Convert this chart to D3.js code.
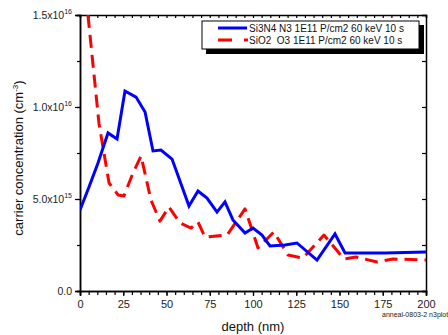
<!DOCTYPE html>
<html><head><meta charset="utf-8">
<script src="https://cdn.jsdelivr.net/npm/d3@7"></script>
<style>body{margin:0;background:#fff;}svg{display:block;font-family:"Liberation Sans",Arial,sans-serif;}</style>
</head><body>
<svg id="c" width="448" height="335"></svg>
<script>
// depth (nm) and carrier concentration (units of 1e15 cm^-3)
const si3n4Depth = [0,5.2,10.4,16.2,21.4,26.0,32.4,37.6,42.2,46.8,53.2,63.0,68.2,73.4,79.2,83.8,88.4,95.4,100.0,105.2,109.8,118.5,125.4,137.0,147.4,153.2,176.0,200.0];
const si3n4Value = [4.40,5.65,6.96,8.59,8.26,10.87,10.54,9.73,7.61,7.66,7.17,4.62,5.43,5.05,4.29,4.84,3.86,3.15,3.42,3.04,2.45,2.50,2.61,1.68,3.10,2.07,2.07,2.12];
const sio2Depth = [4.6,11.0,16.8,22.0,25.4,30.6,35.3,41.0,46.2,51.4,57.8,64.2,68.2,72.3,85.0,95.4,102.9,112.1,120.2,128.9,141.0,152.6,159.5,171.7,181.0,200.0];
const sio2Value = [15.0,9.08,5.87,5.22,5.16,6.41,7.34,4.95,3.80,4.57,3.70,3.42,3.75,2.93,3.04,4.46,2.34,3.21,1.96,1.79,3.04,1.74,1.85,1.58,1.74,1.68];
const seriesNames = ["Si3N4 N3 1E11 P/cm2 60 keV 10 s", "SiO2  O3 1E11 P/cm2 60 keV 10 s"];
const xTicks = [0,25,50,75,100,125,150,175,200];
const yTickValues = [0,5,10,15];
const yTickMain = ["0.0","5.0x10","1.0x10","1.5x10"];
const yTickSup = ["","15","16","16"];

const svg = d3.select("#c");
const L=80,R=426,T=15,B=291;
const x = d3.scaleLinear().domain([0,200]).range([L,R]);
const y = d3.scaleLinear().domain([0,15]).range([B,T]);

svg.append("clipPath").attr("id","clip").append("rect").attr("x",L).attr("y",T).attr("width",R-L).attr("height",B-T);

// axes
const minorX = d3.range(0,201,5);
const minorY = d3.range(0,15.01,2.5);
const gb = svg.append("g").attr("transform",`translate(0,${B})`)
  .call(d3.axisBottom(x).tickValues(minorX).tickSize(4).tickFormat(""));
const gb2 = svg.append("g").attr("transform",`translate(0,${B})`)
  .call(d3.axisBottom(x).tickValues(xTicks).tickSize(5).tickPadding(4).tickFormat(d=>d));
gb2.selectAll("text").attr("font-size",11).attr("fill","#222").attr("font-family","Liberation Sans, Arial");
const gt = svg.append("g").attr("transform",`translate(0,${T})`)
  .call(d3.axisBottom(x).tickValues(minorX).tickSize(3).tickFormat(""));
const gl = svg.append("g").attr("transform",`translate(${L},0)`)
  .call(d3.axisLeft(y).tickValues(minorY).tickSize(3).tickFormat(""));
const gl2 = svg.append("g").attr("transform",`translate(${L},0)`)
  .call(d3.axisLeft(y).tickValues(yTickValues).tickSize(5).tickFormat(""));
const gr = svg.append("g").attr("transform",`translate(${R},0)`)
  .call(d3.axisLeft(y).tickValues(minorY).tickSize(4).tickFormat(""));
[gb,gb2,gt,gl,gl2,gr].forEach(g=>{g.select(".domain").attr("stroke","#000").attr("stroke-width",1.5);g.selectAll("line").attr("stroke","#000").attr("stroke-width",1.2);});

// y tick labels with superscripts
yTickValues.forEach((v,i)=>{
  const t = svg.append("text").attr("x",72).attr("y",y(v)+4).attr("text-anchor","end")
    .attr("font-size",10.5).attr("fill","#222");
  t.append("tspan").text(yTickMain[i]);
  if(yTickSup[i]) t.append("tspan").attr("dy",-5).attr("font-size",7).text(yTickSup[i]);
});

// lines
const line = d3.line().x(d=>x(d[0])).y(d=>y(d[1]));
const plot = svg.append("g").attr("clip-path","url(#clip)");
plot.append("path").datum(sio2Depth.map((d,i)=>[d,sio2Value[i]]))
  .attr("d",line).attr("fill","none").attr("stroke","#ff0000").attr("stroke-width",3)
  .attr("stroke-dasharray","13,7").attr("stroke-linejoin","round");
plot.append("path").datum(si3n4Depth.map((d,i)=>[d,si3n4Value[i]]))
  .attr("d",line).attr("fill","none").attr("stroke","#0000ff").attr("stroke-width",3)
  .attr("stroke-linejoin","miter");

// legend
svg.append("rect").attr("x",206).attr("y",25).attr("width",218).attr("height",29).attr("fill","#000");
svg.append("rect").attr("x",202).attr("y",21).attr("width",217).attr("height",28).attr("fill","#fff").attr("stroke","#000").attr("stroke-width",1);
svg.append("line").attr("x1",218).attr("x2",247).attr("y1",28).attr("y2",28).attr("stroke","#0000ff").attr("stroke-width",3);
svg.append("line").attr("x1",218).attr("x2",248).attr("y1",40).attr("y2",40).attr("stroke","#ff0000").attr("stroke-width",3).attr("stroke-dasharray","14,12");
svg.append("text").attr("x",249).attr("y",31.5).attr("font-size",10).attr("fill","#111").text(seriesNames[0]);
svg.append("text").attr("x",249).attr("y",44).attr("font-size",10).attr("fill","#111").attr("xml:space","preserve").style("white-space","pre").text(seriesNames[1]);

// axis titles
svg.append("text").attr("x",253).attr("y",331).attr("text-anchor","middle").attr("font-size",13).attr("fill","#111").text("depth (nm)");
const yl = svg.append("text").attr("transform","translate(23,158) rotate(-90)").attr("text-anchor","middle").attr("font-size",13).attr("fill","#111");
yl.append("tspan").text("carrier concentration (cm");
yl.append("tspan").attr("dy",-5).attr("font-size",8).text("-3");
yl.append("tspan").attr("dy",5).text(")");

svg.append("text").attr("x",382).attr("y",317).attr("font-size",7).attr("fill","#222").text("anneal-0803-2 n3plot");
</script>
</body></html>
